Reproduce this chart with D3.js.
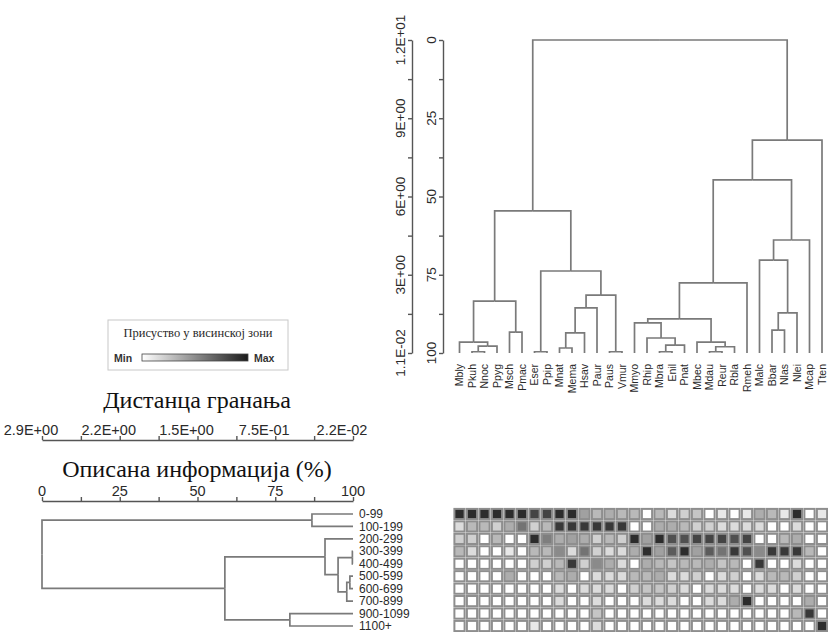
<!DOCTYPE html>
<html>
<head>
<meta charset="utf-8">
<script src="https://cdn.jsdelivr.net/npm/d3@7"></script>
<style>
  body { margin: 0; background: #fff; }
  svg { display: block; }
</style>
</head>
<body>
<svg id="chart" width="828" height="632"></svg>
<script>
// ---- data ----
const species = ["Mbly","Pkuh","Nnoc","Ppyg","Msch","Pmac","Eser","Ppip","Mnat","Mema",
                 "Hsav","Paur","Paus","Vmur","Mmyo","Rhip","Mbra","Enil","Pnat","Mbec",
                 "Mdau","Reur","Rbla","Rmeh","Malc","Bbar","Nlas","Nlei","Mcap","Tten"];
const elevationBands = ["0-99","100-199","200-299","300-399","400-499","500-599",
                        "600-699","700-899","900-1099","1100+"];
const infoTicks = [0, 25, 50, 75, 100];
const infoMinorTicks = [12.5, 37.5, 62.5, 87.5];
const speciesDistanceLabels = ["1.2E+01","9E+00","6E+00","3E+00","1.1E-02"];
const bandDistanceLabels = ["2.9E+00","2.2E+00","1.5E+00","7.5E-01","2.2E-02"];

// merge tables: [a, b, information remaining %]; negative = leaf (1-based), positive = earlier merge
const speciesMerges = [
  [-2, -3, 99.6], [1, -4, 97.8], [-1, 2, 96.5], [-5, -6, 93.3], [3, 4, 83.4],
  [-7, -8, 99.6], [-9, -10, 98.4], [7, -11, 93.6], [8, -12, 85.6], [-13, -14, 99.6],
  [9, 10, 81.5], [6, 11, 73.8], [5, 12, 54.6],
  [-17, -18, 99.6], [14, -19, 97.5], [-16, 15, 95.2], [-15, 16, 90.4],
  [-21, -22, 99.6], [18, -23, 98.0], [-20, 19, 96.5], [17, 20, 89.1], [21, -24, 77.6],
  [-26, -27, 92.7], [23, -28, 87.2], [-25, 24, 70.3], [25, -29, 63.9],
  [22, 26, 44.7], [27, -30, 32.0], [13, 28, 0]
];
const bandMerges = [
  [-1, -2, 86.8], [-4, -5, 99.8], [-6, -7, 99.0], [3, -8, 98.0], [2, 4, 95.2],
  [-3, 5, 91.0], [-9, -10, 79.7], [6, 7, 58.8], [1, 8, 0]
];

// presence by elevation band (rows) and species (columns), 0 = min, 1 = max
const presence = [
  [0.9,0.9,0.9,0.9,0.9,0.9,0.8,0.8,0.9,0.9,0.4,0.3,0.35,0.3,0.3,0,0.3,0.15,0.2,0.25,0,0.1,0,0.1,0.35,0.3,0.1,0.9,0,0.1],
  [0.15,0.3,0.3,0.2,0.35,0.6,0.2,0.3,0.85,0.85,0.85,0.85,0.85,0.85,0,0,0.35,0.35,0.3,0.2,0.2,0.15,0.15,0.15,0.15,0,0,0.15,0,0],
  [0.2,0.2,0,0.3,0,0,0.9,0.55,0.35,0.4,0.35,0.2,0.3,0.2,0.9,0.4,0.9,0.75,0.75,0.8,0.8,0.8,0.75,0.8,0,0,0.3,0.35,0,0],
  [0.3,0.15,0,0,0.1,0,0.3,0.3,0.5,0.15,0.6,0.2,0.15,0.15,0.35,0.9,0.4,0.7,0.9,0.4,0.7,0.6,0.85,0.75,0.5,0.85,0.85,0.85,0.3,0],
  [0,0,0,0,0,0,0.2,0.2,0.3,0.85,0.2,0.5,0.35,0.15,0,0.35,0.3,0.25,0.3,0.3,0.35,0.25,0.3,0,0.85,0,0,0.15,0,0],
  [0,0,0,0,0.35,0,0,0,0.3,0.35,0,0.15,0.15,0.15,0.3,0.3,0.35,0.15,0.15,0.2,0,0.15,0.2,0,0.15,0.3,0.3,0.2,0,0],
  [0,0,0,0,0,0,0,0,0.15,0,0.15,0.15,0.15,0,0.2,0.25,0.25,0.2,0.15,0,0.15,0.15,0.15,0,0.15,0.15,0,0.15,0,0],
  [0,0,0,0,0,0,0,0,0.15,0,0,0.15,0,0,0,0.15,0.15,0.15,0,0,0.15,0.15,0.35,0.9,0,0,0,0,0.35,0],
  [0,0,0,0,0,0,0,0,0,0,0,0.25,0,0,0,0,0,0,0,0,0,0,0,0,0,0,0,0.3,0.85,0],
  [0,0,0,0,0,0,0.1,0,0,0,0,0.15,0,0,0,0,0,0,0,0,0,0,0,0,0,0,0,0,0,0.9]
];

// ---- setup ----
const svg = d3.select("#chart");
const lineColor = "#7a7a7a";
const textColor = "#2a2a2a";
const sansFont = "Arial, 'Liberation Sans', sans-serif";
const serifFont = "'Liberation Serif', 'Times New Roman', serif";

// build a nested tree from an hclust-style merge table
function buildTree(merges) {
  const nodes = [];
  const ref = r => r < 0 ? { leaf: -r - 1, height: 100 } : nodes[r - 1];
  merges.forEach(([a, b, h]) => nodes.push({ height: h, children: [ref(a), ref(b)] }));
  return d3.hierarchy(nodes[nodes.length - 1]);
}

// positions: leaf position from a point scale, internal node = mean of children
function layout(root, leafPos) {
  root.eachAfter(n => {
    n.pos = n.children ? d3.mean(n.children, c => c.pos) : leafPos(n.data.leaf);
  });
}

// ---- species dendrogram (top) ----
const speciesX = d3.scalePoint().domain(d3.range(species.length)).range([459.5, 822]);
const infoY = d3.scaleLinear().domain([0, 100]).range([40, 353]);
const speciesTree = buildTree(speciesMerges);
layout(speciesTree, i => speciesX(i));

const topDend = svg.append("g").attr("fill", "none").attr("stroke", lineColor).attr("stroke-width", 1.7);
speciesTree.descendants().filter(n => n.children).forEach(n => {
  n.children.forEach(c => {
    topDend.append("path")
      .attr("d", `M${n.pos},${infoY(n.data.height)}H${c.pos}V${infoY(c.data.height)}`);
  });
});

// species labels
svg.append("g").selectAll("text").data(species).join("text")
  .attr("transform", (d, i) => `translate(${speciesX(i) + 3.5},364) rotate(-90)`)
  .attr("text-anchor", "end")
  .attr("font-family", sansFont).attr("font-size", 10.5).attr("fill", textColor)
  .text(d => d);

// vertical axes for the species dendrogram
function verticalAxis(xPos, labels, labelX) {
  const g = svg.append("g").attr("transform", `translate(${xPos},0)`);
  g.call(d3.axisLeft(infoY).tickValues(infoTicks).tickSize(4).tickSizeOuter(0).tickFormat(""));
  g.append("g").call(d3.axisLeft(infoY).tickValues(infoMinorTicks).tickSize(4).tickFormat(""))
    .select(".domain").remove();
  g.selectAll("path, line").attr("stroke", "#555").attr("stroke-width", 1.4);
  g.selectAll(".lab").data(infoTicks).join("text").attr("class", "lab")
    .attr("transform", (d) => `translate(${labelX - xPos},${infoY(d)}) rotate(-90)`)
    .attr("text-anchor", "middle")
    .attr("font-family", sansFont).attr("font-size", 13.5).attr("fill", textColor)
    .text((d, i) => labels[i]);
}
verticalAxis(443, infoTicks.map(String), 436);
verticalAxis(412, speciesDistanceLabels, 405);

// ---- legend ----
const legend = svg.append("g");
legend.append("rect").attr("x", 108).attr("y", 320).attr("width", 180).attr("height", 50)
  .attr("fill", "none").attr("stroke", "#c8c8c8").attr("stroke-width", 1);
legend.append("text").attr("x", 198).attr("y", 337).attr("text-anchor", "middle")
  .attr("font-family", serifFont).attr("font-size", 12.5).attr("fill", textColor)
  .text("Присуство у висинској зони");
const grad = svg.append("defs").append("linearGradient").attr("id", "presenceGrad");
grad.append("stop").attr("offset", "0%").attr("stop-color", "#ffffff");
grad.append("stop").attr("offset", "100%").attr("stop-color", "#1a1a1a");
legend.append("rect").attr("x", 142).attr("y", 354).attr("width", 106).attr("height", 7)
  .attr("fill", "url(#presenceGrad)").attr("stroke", "#444").attr("stroke-width", 0.8);
legend.append("text").attr("x", 114).attr("y", 361.5)
  .attr("font-family", sansFont).attr("font-size", 10.5).attr("font-weight", "bold").attr("fill", "#333")
  .text("Min");
legend.append("text").attr("x", 254).attr("y", 361.5)
  .attr("font-family", sansFont).attr("font-size", 10.5).attr("font-weight", "bold").attr("fill", "#333")
  .text("Max");

// ---- horizontal axes for the band dendrogram ----
const infoX = d3.scaleLinear().domain([0, 100]).range([42, 353]);
function horizontalAxis(yPos, labels, dx, title, titleY) {
  const g = svg.append("g").attr("transform", `translate(0,${yPos})`);
  g.call(d3.axisTop(infoX).tickValues(infoTicks).tickSize(4).tickSizeOuter(0).tickFormat(""));
  g.append("g").call(d3.axisTop(infoX).tickValues(infoMinorTicks).tickSize(4).tickFormat(""))
    .select(".domain").remove();
  g.selectAll("path, line").attr("stroke", "#555").attr("stroke-width", 1.4);
  g.selectAll(".lab").data(infoTicks).join("text").attr("class", "lab")
    .attr("x", d => infoX(d) + dx).attr("y", -5)
    .attr("text-anchor", "middle")
    .attr("font-family", sansFont).attr("font-size", 14.5).attr("fill", textColor)
    .text((d, i) => labels[i]);
  svg.append("text").attr("x", 197).attr("y", titleY).attr("text-anchor", "middle")
    .attr("font-family", serifFont).attr("font-size", 24).attr("fill", "#111")
    .text(title);
}
horizontalAxis(440, bandDistanceLabels, -11, "Дистанца гранања", 408);
horizontalAxis(501, infoTicks.map(String), 0, "Описана информација (%)", 477);

// ---- band dendrogram (left) ----
const bandY = d3.scalePoint().domain(d3.range(elevationBands.length)).range([514, 626]);
const bandTree = buildTree(bandMerges);
layout(bandTree, i => bandY(i));
const leftDend = svg.append("g").attr("fill", "none").attr("stroke", lineColor).attr("stroke-width", 1.7);
bandTree.descendants().filter(n => n.children).forEach(n => {
  n.children.forEach(c => {
    leftDend.append("path")
      .attr("d", `M${infoX(n.data.height)},${n.pos}V${c.pos}H${infoX(c.data.height)}`);
  });
});
svg.append("g").selectAll("text").data(elevationBands).join("text")
  .attr("x", 359).attr("y", (d, i) => bandY(i)).attr("dy", "0.34em")
  .attr("font-family", sansFont).attr("font-size", 12).attr("fill", textColor)
  .text(d => d);

// ---- presence heatmap ----
const shade = d3.scaleLinear().domain([0, 1]).range(["#ffffff", "#151515"]);
const cell = 10.2;
const cells = presence.flatMap((row, r) => row.map((v, c) => ({ r, c, v })));
svg.append("g").selectAll("rect").data(cells).join("rect")
  .attr("x", d => speciesX(d.c) - cell / 2)
  .attr("y", d => bandY(d.r) - cell / 2)
  .attr("width", cell).attr("height", cell)
  .attr("fill", d => shade(d.v))
  .attr("stroke", "#8e8e8e").attr("stroke-width", 2);
</script>
</body>
</html>
